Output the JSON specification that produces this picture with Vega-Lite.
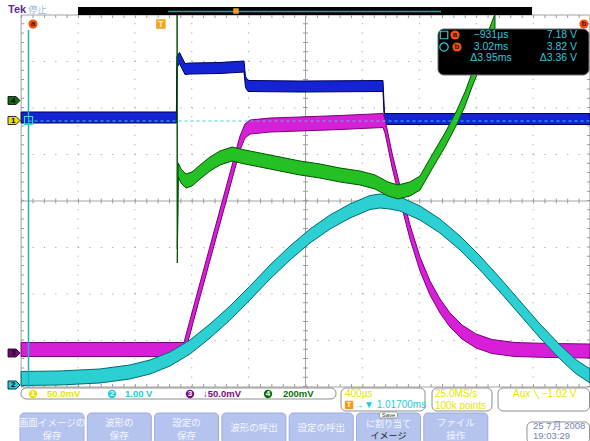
{
  "$schema": "https://vega.github.io/schema/vega-lite/v6.json",
  "background": "#ffffff",
  "padding": 0,
  "spacing": 0,
  "bounds": "flush",
  "config": {"view": {"stroke": null}, "text": {"font": "Liberation Sans"}},
  "datasets": {
    "traces": [
      {"ch": 1, "t": -0.983, "div": 1.796}, {"ch": 1, "t": -0.428, "div": 1.796}, {"ch": 1, "t": 0.109, "div": 1.796},
      {"ch": 1, "t": 0.1132, "div": 2.989}, {"ch": 1, "t": 0.1308, "div": 3.075}, {"ch": 1, "t": 0.1484, "div": 2.968},
      {"ch": 1, "t": 0.1695, "div": 2.839}, {"ch": 1, "t": 0.2046, "div": 2.849}, {"ch": 1, "t": 0.4156, "div": 2.86},
      {"ch": 1, "t": 0.5844, "div": 2.892}, {"ch": 1, "t": 0.5949, "div": 2.559}, {"ch": 1, "t": 0.6125, "div": 2.473},
      {"ch": 1, "t": 0.9782, "div": 2.462}, {"ch": 1, "t": 1.5619, "div": 2.473}, {"ch": 1, "t": 1.5724, "div": 1.763},
      {"ch": 1, "t": 3.017, "div": 1.763},

      {"ch": 3, "t": -0.983, "div": -3.194}, {"ch": 3, "t": 0.1624, "div": -3.194}, {"ch": 3, "t": 0.1765, "div": -3.032},
      {"ch": 3, "t": 0.275, "div": -1.914}, {"ch": 3, "t": 0.3805, "div": -0.731}, {"ch": 3, "t": 0.4859, "div": 0.452},
      {"ch": 3, "t": 0.5563, "div": 1.247}, {"ch": 3, "t": 0.5914, "div": 1.505}, {"ch": 3, "t": 0.6266, "div": 1.591},
      {"ch": 3, "t": 0.7672, "div": 1.634}, {"ch": 3, "t": 0.9782, "div": 1.656}, {"ch": 3, "t": 1.2595, "div": 1.688},
      {"ch": 3, "t": 1.5619, "div": 1.731}, {"ch": 3, "t": 1.5759, "div": 1.613}, {"ch": 3, "t": 1.6252, "div": 0.882},
      {"ch": 3, "t": 1.6814, "div": 0.172}, {"ch": 3, "t": 1.7518, "div": -0.667}, {"ch": 3, "t": 1.8221, "div": -1.355},
      {"ch": 3, "t": 1.8924, "div": -1.871}, {"ch": 3, "t": 1.9627, "div": -2.258}, {"ch": 3, "t": 2.0331, "div": -2.559},
      {"ch": 3, "t": 2.1174, "div": -2.817}, {"ch": 3, "t": 2.2159, "div": -3.011}, {"ch": 3, "t": 2.3284, "div": -3.129},
      {"ch": 3, "t": 2.4902, "div": -3.194}, {"ch": 3, "t": 2.7363, "div": -3.215}, {"ch": 3, "t": 3.017, "div": -3.226},

      {"ch": 2, "t": -0.983, "div": -3.817}, {"ch": 2, "t": -0.7096, "div": -3.806}, {"ch": 2, "t": -0.4283, "div": -3.763},
      {"ch": 2, "t": -0.2173, "div": -3.677}, {"ch": 2, "t": -0.0767, "div": -3.57}, {"ch": 2, "t": 0.064, "div": -3.398},
      {"ch": 2, "t": 0.2046, "div": -3.14}, {"ch": 2, "t": 0.3453, "div": -2.796}, {"ch": 2, "t": 0.4859, "div": -2.409},
      {"ch": 2, "t": 0.6266, "div": -1.978}, {"ch": 2, "t": 0.7672, "div": -1.527}, {"ch": 2, "t": 0.9079, "div": -1.118},
      {"ch": 2, "t": 1.0485, "div": -0.753}, {"ch": 2, "t": 1.1892, "div": -0.452}, {"ch": 2, "t": 1.3298, "div": -0.215},
      {"ch": 2, "t": 1.4705, "div": -0.032}, {"ch": 2, "t": 1.5408, "div": 0.0}, {"ch": 2, "t": 1.6111, "div": -0.022},
      {"ch": 2, "t": 1.6814, "div": -0.065}, {"ch": 2, "t": 1.8221, "div": -0.258}, {"ch": 2, "t": 1.9627, "div": -0.538},
      {"ch": 2, "t": 2.1034, "div": -0.903}, {"ch": 2, "t": 2.2441, "div": -1.333}, {"ch": 2, "t": 2.3847, "div": -1.806},
      {"ch": 2, "t": 2.5253, "div": -2.301}, {"ch": 2, "t": 2.666, "div": -2.796}, {"ch": 2, "t": 2.8066, "div": -3.247},
      {"ch": 2, "t": 2.9121, "div": -3.548}, {"ch": 2, "t": 3.017, "div": -3.763},

      {"ch": 4, "t": 0.1139, "div": 3.871}, {"ch": 4, "t": 0.1153, "div": -1.183}, {"ch": 4, "t": 0.1224, "div": 0.667},
      {"ch": 4, "t": 0.1414, "div": 0.538}, {"ch": 4, "t": 0.1765, "div": 0.43}, {"ch": 4, "t": 0.2187, "div": 0.473},
      {"ch": 4, "t": 0.275, "div": 0.624}, {"ch": 4, "t": 0.3453, "div": 0.796}, {"ch": 4, "t": 0.4156, "div": 0.925},
      {"ch": 4, "t": 0.5, "div": 1.011}, {"ch": 4, "t": 0.5914, "div": 0.946}, {"ch": 4, "t": 0.6969, "div": 0.882},
      {"ch": 4, "t": 0.8376, "div": 0.796}, {"ch": 4, "t": 0.9782, "div": 0.71}, {"ch": 4, "t": 1.1188, "div": 0.645},
      {"ch": 4, "t": 1.2595, "div": 0.559}, {"ch": 4, "t": 1.4001, "div": 0.495}, {"ch": 4, "t": 1.5056, "div": 0.409},
      {"ch": 4, "t": 1.597, "div": 0.258}, {"ch": 4, "t": 1.6674, "div": 0.194}, {"ch": 4, "t": 1.7518, "div": 0.258},
      {"ch": 4, "t": 1.8221, "div": 0.387}, {"ch": 4, "t": 1.9065, "div": 0.839}, {"ch": 4, "t": 1.9979, "div": 1.312},
      {"ch": 4, "t": 2.0823, "div": 1.806}, {"ch": 4, "t": 2.1385, "div": 2.194}, {"ch": 4, "t": 2.1878, "div": 2.602},
      {"ch": 4, "t": 2.2441, "div": 3.032}, {"ch": 4, "t": 2.3003, "div": 3.484}, {"ch": 4, "t": 2.3495, "div": 3.871}
    ],
    "vgrid": [{"t": -0.583}, {"t": -0.183}, {"t": 0.217}, {"t": 0.617}, {"t": 1.417}, {"t": 1.817}, {"t": 2.217}, {"t": 2.617}],
    "hgrid": [{"div": -3}, {"div": -2}, {"div": -1}, {"div": 1}, {"div": 2}, {"div": 3}],
    "frame": [
      {"t0": -0.983, "t1": -0.983, "d0": -4, "d1": 4},
      {"t0": -0.983, "t1": 3.017, "d0": 4, "d1": 4},
      {"t0": -0.983, "t1": 3.017, "d0": -4, "d1": -4},
      {"t0": 3.017, "t1": 3.017, "d0": -4, "d1": 4},
      {"t0": 1.017, "t1": 1.017, "d0": -4, "d1": 4},
      {"t0": -0.983, "t1": 3.017, "d0": 0, "d1": 0}
    ],
    "grounds": [{"ch": "4", "div": 2.161}, {"ch": "1", "div": 1.731}, {"ch": "3", "div": -3.269}, {"ch": "2", "div": -3.957}],
    "tags": [{"tag": "a", "t": -0.8995, "div": 3.806}, {"tag": "b", "t": 2.975, "div": 3.806}],
    "cursors": [
      {"cursor": "a", "div": 3.57, "time": "−931µs", "volt": "7.18 V"},
      {"cursor": "b", "div": 3.312, "time": "3.02ms", "volt": "3.82 V"},
      {"cursor": "Δ", "div": 3.065, "time": "Δ3.95ms", "volt": "Δ3.36 V"}
    ],
    "boxes": [
      {"u0": 0.0149, "u1": 4.695, "r0": 0.083, "r1": 1.0},
      {"u0": 4.77, "u1": 6.018, "r0": 0.083, "r1": 2.0},
      {"u0": 6.122, "u1": 7.013, "r0": 0.083, "r1": 2.0},
      {"u0": 7.103, "u1": 8.462, "r0": 0.083, "r1": 2.0},
      {"u0": 7.533, "u1": 8.462, "r0": 2.917, "r1": 4.7}
    ],
    "buttons": [
      {"slot": 0, "line1": "画面イメージの", "line2": "保存"},
      {"slot": 1, "line1": "波形の", "line2": "保存"},
      {"slot": 2, "line1": "設定の", "line2": "保存"},
      {"slot": 3, "mid": "波形の呼出"},
      {"slot": 4, "mid": "設定の呼出"},
      {"slot": 5, "upper": "に割り当て", "dark": "イメージ"},
      {"slot": 6, "line1": "ファイル", "line2": "操作"}
    ],
    "pills": [{"ch": "1", "u": 0.193}, {"ch": "2", "u": 1.367}, {"ch": "3", "u": 2.526}, {"ch": "4", "u": 3.685}],
    "chReadouts": [
      {"u": 0.401, "r": 0.583, "text": "50.0mV", "src": "1"},
      {"u": 1.56, "r": 0.583, "text": "1.00 V", "src": "2"},
      {"u": 2.719, "r": 0.583, "text": "↓50.0mV", "src": "3"},
      {"u": 3.908, "r": 0.583, "text": "200mV", "src": "4"}
    ],
    "sysReadouts": [
      {"u": 4.829, "r": 0.583, "text": "400µs", "src": "sys"},
      {"u": 4.963, "r": 1.5, "text": "→▼ 1.01700ms", "src": "trig"},
      {"u": 6.166, "r": 0.583, "text": "25.0MS/s", "src": "sys"},
      {"u": 6.166, "r": 1.583, "text": "100k points", "src": "sys"},
      {"u": 7.325, "r": 0.583, "text": "Aux ╲ −1.02 V", "src": "sys"}
    ],
    "clock": [
      {"u": 7.623, "r": 3.25, "text": "25 7月  2008"},
      {"u": 7.623, "r": 4.1, "text": "19:03:29"}
    ]
  },
  "vconcat": [
    {
      "width": 590,
      "height": 387,
      "layer": [
        {
          "data": {"name": "vgrid"},
          "mark": {"type": "rule", "stroke": "#a6a6a6", "strokeWidth": 1, "strokeDash": [1.2, 8.1]},
          "encoding": {
            "x": {"field": "t", "type": "quantitative", "scale": {"domain": [-1.1315, 3.0176], "nice": false, "zero": false}, "axis": null},
            "y": {"datum": -4, "type": "quantitative", "scale": {"domain": [-4, 4.3226], "nice": false, "zero": false}, "axis": null},
            "y2": {"datum": 4}
          }
        },
        {
          "data": {"name": "hgrid"},
          "mark": {"type": "rule", "stroke": "#a6a6a6", "strokeWidth": 1, "strokeDash": [1.2, 10.176]},
          "encoding": {
            "x": {"datum": -0.983, "type": "quantitative", "scale": {"domain": [-1.1315, 3.0176], "nice": false, "zero": false}, "axis": null},
            "x2": {"datum": 3.017},
            "y": {"field": "div", "type": "quantitative", "scale": {"domain": [-4, 4.3226], "nice": false, "zero": false}, "axis": null}
          }
        },
        {
          "data": {"name": "frame"},
          "mark": {"type": "rule", "stroke": "#a2a2a2", "strokeWidth": 1},
          "encoding": {
            "x": {"field": "t0", "type": "quantitative", "scale": {"domain": [-1.1315, 3.0176], "nice": false, "zero": false}, "axis": null},
            "x2": {"field": "t1"},
            "y": {"field": "d0", "type": "quantitative", "scale": {"domain": [-4, 4.3226], "nice": false, "zero": false}, "axis": null},
            "y2": {"field": "d1"}
          }
        },
        {
          "data": {"values": [{"t": 1.017}]},
          "mark": {"type": "rule", "stroke": "#9c9c9c", "strokeWidth": 5, "strokeDash": [1, 8.3]},
          "encoding": {
            "x": {"field": "t", "type": "quantitative", "scale": {"domain": [-1.1315, 3.0176], "nice": false, "zero": false}, "axis": null},
            "y": {"datum": -4, "type": "quantitative", "scale": {"domain": [-4, 4.3226], "nice": false, "zero": false}, "axis": null},
            "y2": {"datum": 4}
          }
        },
        {
          "data": {"values": [{"div": 0}]},
          "mark": {"type": "rule", "stroke": "#9c9c9c", "strokeWidth": 5, "strokeDash": [1, 10.376]},
          "encoding": {
            "x": {"datum": -0.983, "type": "quantitative", "scale": {"domain": [-1.1315, 3.0176], "nice": false, "zero": false}, "axis": null},
            "x2": {"datum": 3.017},
            "y": {"field": "div", "type": "quantitative", "scale": {"domain": [-4, 4.3226], "nice": false, "zero": false}, "axis": null}
          }
        },
        {
          "data": {"values": [{"t": -0.9725}, {"t": 3.0065}]},
          "mark": {"type": "rule", "stroke": "#9c9c9c", "strokeWidth": 3, "strokeDash": [1, 8.3]},
          "encoding": {
            "x": {"field": "t", "type": "quantitative", "scale": {"domain": [-1.1315, 3.0176], "nice": false, "zero": false}, "axis": null},
            "y": {"datum": -4, "type": "quantitative", "scale": {"domain": [-4, 4.3226], "nice": false, "zero": false}, "axis": null},
            "y2": {"datum": 4}
          }
        },
        {
          "data": {"values": [{"div": 3.968}, {"div": -3.968}]},
          "mark": {"type": "rule", "stroke": "#9c9c9c", "strokeWidth": 3, "strokeDash": [1, 10.376]},
          "encoding": {
            "x": {"datum": -0.983, "type": "quantitative", "scale": {"domain": [-1.1315, 3.0176], "nice": false, "zero": false}, "axis": null},
            "x2": {"datum": 3.017},
            "y": {"field": "div", "type": "quantitative", "scale": {"domain": [-4, 4.3226], "nice": false, "zero": false}, "axis": null}
          }
        },
        {
          "data": {"name": "traces"},
          "transform": [{"filter": "datum.ch === 1"}],
          "mark": {"type": "area", "yOffset": -5.5, "y2Offset": 5.5, "fill": "#1424d4", "stroke": "#00005e", "strokeWidth": 1},
          "encoding": {
            "x": {"field": "t", "type": "quantitative", "scale": {"domain": [-1.1315, 3.0176], "nice": false, "zero": false}, "axis": null},
            "y": {"field": "div", "type": "quantitative", "scale": {"domain": [-4, 4.3226], "nice": false, "zero": false}, "axis": null},
            "y2": {"field": "div"}
          }
        },
        {
          "data": {"name": "traces"},
          "transform": [{"filter": "datum.ch === 3"}],
          "mark": {"type": "area", "yOffset": -7, "y2Offset": 7, "fill": "#d81fd8", "stroke": "#7a0079", "strokeWidth": 1},
          "encoding": {
            "x": {"field": "t", "type": "quantitative", "scale": {"domain": [-1.1315, 3.0176], "nice": false, "zero": false}, "axis": null},
            "y": {"field": "div", "type": "quantitative", "scale": {"domain": [-4, 4.3226], "nice": false, "zero": false}, "axis": null},
            "y2": {"field": "div"}
          }
        },
        {
          "data": {"name": "traces"},
          "transform": [{"filter": "datum.ch === 2"}],
          "mark": {"type": "area", "yOffset": -7, "y2Offset": 7, "fill": "#2ccfd2", "stroke": "#006b74", "strokeWidth": 1},
          "encoding": {
            "x": {"field": "t", "type": "quantitative", "scale": {"domain": [-1.1315, 3.0176], "nice": false, "zero": false}, "axis": null},
            "y": {"field": "div", "type": "quantitative", "scale": {"domain": [-4, 4.3226], "nice": false, "zero": false}, "axis": null},
            "y2": {"field": "div"}
          }
        },
        {
          "data": {"name": "traces"},
          "transform": [{"filter": "datum.ch === 4"}],
          "mark": {"type": "area", "yOffset": -7, "y2Offset": 7, "fill": "#24c024", "stroke": "#005500", "strokeWidth": 1},
          "encoding": {
            "x": {"field": "t", "type": "quantitative", "scale": {"domain": [-1.1315, 3.0176], "nice": false, "zero": false}, "axis": null},
            "y": {"field": "div", "type": "quantitative", "scale": {"domain": [-4, 4.3226], "nice": false, "zero": false}, "axis": null},
            "y2": {"field": "div"}
          }
        },
        {
          "data": {"values": [{"t": -0.931, "div": 1.72}]},
          "mark": {"type": "rule", "stroke": "#3ccbe0", "strokeWidth": 1, "strokeDash": [3, 3]},
          "encoding": {
            "x": {"field": "t", "type": "quantitative", "scale": {"domain": [-1.1315, 3.0176], "nice": false, "zero": false}, "axis": null},
            "x2": {"datum": 3.017},
            "y": {"field": "div", "type": "quantitative", "scale": {"domain": [-4, 4.3226], "nice": false, "zero": false}, "axis": null}
          }
        },
        {
          "data": {"values": [{"t": -0.931}]},
          "mark": {"type": "rule", "stroke": "#1bb5c6", "strokeWidth": 1.5},
          "encoding": {
            "x": {"field": "t", "type": "quantitative", "scale": {"domain": [-1.1315, 3.0176], "nice": false, "zero": false}, "axis": null},
            "y": {"datum": -4, "type": "quantitative", "scale": {"domain": [-4, 4.3226], "nice": false, "zero": false}, "axis": null},
            "y2": {"datum": 3.677}
          }
        },
        {
          "data": {"values": [{"t": -0.931, "div": 1.731}]},
          "mark": {"type": "point", "shape": "square", "size": 64, "filled": false, "stroke": "#35d5e5", "strokeWidth": 1.2, "opacity": 1},
          "encoding": {
            "x": {"field": "t", "type": "quantitative", "scale": {"domain": [-1.1315, 3.0176], "nice": false, "zero": false}, "axis": null},
            "y": {"field": "div", "type": "quantitative", "scale": {"domain": [-4, 4.3226], "nice": false, "zero": false}, "axis": null}
          }
        },
        {
          "data": {"name": "grounds"},
          "mark": {"type": "point", "shape": "M-1,-0.67L0.35,-0.67L1,0L0.35,0.67L-1,0.67Z", "size": 144, "filled": true, "stroke": "#000000", "strokeWidth": 0.8, "opacity": 1},
          "encoding": {
            "x": {"datum": -1.033, "type": "quantitative", "scale": {"domain": [-1.1315, 3.0176], "nice": false, "zero": false}, "axis": null},
            "y": {"field": "div", "type": "quantitative", "scale": {"domain": [-4, 4.3226], "nice": false, "zero": false}, "axis": null},
            "fill": {"field": "ch", "type": "nominal", "scale": {"domain": ["1", "2", "3", "4"], "range": ["#e8e400", "#22ccd8", "#7a0a7a", "#0e6e0e"]}, "legend": null}
          }
        },
        {
          "data": {"name": "grounds"},
          "mark": {"type": "text", "fontSize": 8, "fontWeight": "bold", "fill": "#000000", "align": "center", "baseline": "middle"},
          "encoding": {
            "x": {"datum": -1.038, "type": "quantitative", "scale": {"domain": [-1.1315, 3.0176], "nice": false, "zero": false}, "axis": null},
            "y": {"field": "div", "type": "quantitative", "scale": {"domain": [-4, 4.3226], "nice": false, "zero": false}, "axis": null},
            "text": {"field": "ch"}
          }
        },
        {
          "data": {"values": [{"t0": -0.583, "t1": 2.61, "d0": 4.0, "d1": 4.172}]},
          "mark": {"type": "rect", "fill": "#000000"},
          "encoding": {
            "x": {"field": "t0", "type": "quantitative", "scale": {"domain": [-1.1315, 3.0176], "nice": false, "zero": false}, "axis": null},
            "x2": {"field": "t1"},
            "y": {"field": "d0", "type": "quantitative", "scale": {"domain": [-4, 4.3226], "nice": false, "zero": false}, "axis": null},
            "y2": {"field": "d1"}
          }
        },
        {
          "data": {"values": [{"t0": 0.0499, "t1": 1.9698, "div": 4.075}]},
          "mark": {"type": "rule", "stroke": "#2f9c9c", "strokeWidth": 1.5},
          "encoding": {
            "x": {"field": "t0", "type": "quantitative", "scale": {"domain": [-1.1315, 3.0176], "nice": false, "zero": false}, "axis": null},
            "x2": {"field": "t1"},
            "y": {"field": "div", "type": "quantitative", "scale": {"domain": [-4, 4.3226], "nice": false, "zero": false}, "axis": null}
          }
        },
        {
          "data": {"values": [{"t": 0.528, "div": 4.086}]},
          "mark": {"type": "point", "shape": "square", "size": 30, "filled": true, "fill": "#f0a020", "strokeWidth": 0, "opacity": 1},
          "encoding": {
            "x": {"field": "t", "type": "quantitative", "scale": {"domain": [-1.1315, 3.0176], "nice": false, "zero": false}, "axis": null},
            "y": {"field": "div", "type": "quantitative", "scale": {"domain": [-4, 4.3226], "nice": false, "zero": false}, "axis": null}
          }
        },
        {
          "data": {"values": [{"t": -1.0752, "div": 4.097, "label": "Tek"}]},
          "mark": {"type": "text", "align": "left", "baseline": "middle", "fontSize": 11, "fontWeight": "bold", "fill": "#5b2c90"},
          "encoding": {
            "x": {"field": "t", "type": "quantitative", "scale": {"domain": [-1.1315, 3.0176], "nice": false, "zero": false}, "axis": null},
            "y": {"field": "div", "type": "quantitative", "scale": {"domain": [-4, 4.3226], "nice": false, "zero": false}, "axis": null},
            "text": {"field": "label"}
          }
        },
        {
          "data": {"values": [{"t": -0.9346, "div": 4.097, "label": "停止"}]},
          "mark": {"type": "text", "align": "left", "baseline": "middle", "fontSize": 9.5, "font": "Noto Sans CJK JP", "fill": "#a4bbe4"},
          "encoding": {
            "x": {"field": "t", "type": "quantitative", "scale": {"domain": [-1.1315, 3.0176], "nice": false, "zero": false}, "axis": null},
            "y": {"field": "div", "type": "quantitative", "scale": {"domain": [-4, 4.3226], "nice": false, "zero": false}, "axis": null},
            "text": {"field": "label"}
          }
        },
        {
          "data": {"name": "tags"},
          "mark": {"type": "point", "shape": "circle", "size": 85, "filled": true, "fill": "#f2540f", "strokeWidth": 0, "opacity": 1},
          "encoding": {
            "x": {"field": "t", "type": "quantitative", "scale": {"domain": [-1.1315, 3.0176], "nice": false, "zero": false}, "axis": null},
            "y": {"field": "div", "type": "quantitative", "scale": {"domain": [-4, 4.3226], "nice": false, "zero": false}, "axis": null}
          }
        },
        {
          "data": {"name": "tags"},
          "mark": {"type": "text", "align": "center", "baseline": "middle", "fontSize": 8, "fontWeight": "bold", "fill": "#4a1000"},
          "encoding": {
            "x": {"field": "t", "type": "quantitative", "scale": {"domain": [-1.1315, 3.0176], "nice": false, "zero": false}, "axis": null},
            "y": {"field": "div", "type": "quantitative", "scale": {"domain": [-4, 4.3226], "nice": false, "zero": false}, "axis": null},
            "text": {"field": "tag"}
          }
        },
        {
          "data": {"values": [{"t": 0.0, "div": 3.806, "tag": "T"}]},
          "mark": {"type": "point", "shape": "square", "size": 90, "filled": true, "fill": "#f2a51d", "strokeWidth": 0, "opacity": 1},
          "encoding": {
            "x": {"field": "t", "type": "quantitative", "scale": {"domain": [-1.1315, 3.0176], "nice": false, "zero": false}, "axis": null},
            "y": {"field": "div", "type": "quantitative", "scale": {"domain": [-4, 4.3226], "nice": false, "zero": false}, "axis": null}
          }
        },
        {
          "data": {"values": [{"t": 0.0, "div": 3.806, "tag": "T"}]},
          "mark": {"type": "text", "align": "center", "baseline": "middle", "fontSize": 8.5, "fontWeight": "bold", "fill": "#fff4c2"},
          "encoding": {
            "x": {"field": "t", "type": "quantitative", "scale": {"domain": [-1.1315, 3.0176], "nice": false, "zero": false}, "axis": null},
            "y": {"field": "div", "type": "quantitative", "scale": {"domain": [-4, 4.3226], "nice": false, "zero": false}, "axis": null},
            "text": {"field": "tag"}
          }
        },
        {
          "data": {"values": [{"t0": 1.9487, "t1": 3.0105, "d0": 2.71, "d1": 3.699}]},
          "mark": {"type": "rect", "fill": "#000000", "stroke": "#6e6e6e", "strokeWidth": 1, "cornerRadius": 6},
          "encoding": {
            "x": {"field": "t0", "type": "quantitative", "scale": {"domain": [-1.1315, 3.0176], "nice": false, "zero": false}, "axis": null},
            "x2": {"field": "t1"},
            "y": {"field": "d0", "type": "quantitative", "scale": {"domain": [-4, 4.3226], "nice": false, "zero": false}, "axis": null},
            "y2": {"field": "d1"}
          }
        },
        {
          "data": {"values": [{"t": 1.9909, "div": 3.57}]},
          "mark": {"type": "point", "shape": "square", "size": 56, "filled": false, "stroke": "#2fc8dc", "strokeWidth": 1.2, "opacity": 1},
          "encoding": {
            "x": {"field": "t", "type": "quantitative", "scale": {"domain": [-1.1315, 3.0176], "nice": false, "zero": false}, "axis": null},
            "y": {"field": "div", "type": "quantitative", "scale": {"domain": [-4, 4.3226], "nice": false, "zero": false}, "axis": null}
          }
        },
        {
          "data": {"values": [{"t": 1.9909, "div": 3.312}]},
          "mark": {"type": "point", "shape": "circle", "size": 70, "filled": false, "stroke": "#2fc8dc", "strokeWidth": 1.2, "opacity": 1},
          "encoding": {
            "x": {"field": "t", "type": "quantitative", "scale": {"domain": [-1.1315, 3.0176], "nice": false, "zero": false}, "axis": null},
            "y": {"field": "div", "type": "quantitative", "scale": {"domain": [-4, 4.3226], "nice": false, "zero": false}, "axis": null}
          }
        },
        {
          "data": {"values": [{"t": 2.0682, "div": 3.57, "tag": "a"}, {"t": 2.0823, "div": 3.312, "tag": "b"}]},
          "mark": {"type": "point", "shape": "circle", "size": 85, "filled": true, "fill": "#f2540f", "strokeWidth": 0, "opacity": 1},
          "encoding": {
            "x": {"field": "t", "type": "quantitative", "scale": {"domain": [-1.1315, 3.0176], "nice": false, "zero": false}, "axis": null},
            "y": {"field": "div", "type": "quantitative", "scale": {"domain": [-4, 4.3226], "nice": false, "zero": false}, "axis": null}
          }
        },
        {
          "data": {"values": [{"t": 2.0682, "div": 3.57, "tag": "a"}, {"t": 2.0823, "div": 3.312, "tag": "b"}]},
          "mark": {"type": "text", "align": "center", "baseline": "middle", "fontSize": 8, "fontWeight": "bold", "fill": "#3a0a00"},
          "encoding": {
            "x": {"field": "t", "type": "quantitative", "scale": {"domain": [-1.1315, 3.0176], "nice": false, "zero": false}, "axis": null},
            "y": {"field": "div", "type": "quantitative", "scale": {"domain": [-4, 4.3226], "nice": false, "zero": false}, "axis": null},
            "text": {"field": "tag"}
          }
        },
        {
          "data": {"name": "cursors"},
          "mark": {"type": "text", "align": "center", "baseline": "middle", "fontSize": 10.5, "fill": "#2fc8dc"},
          "encoding": {
            "x": {"datum": 2.3213, "type": "quantitative", "scale": {"domain": [-1.1315, 3.0176], "nice": false, "zero": false}, "axis": null},
            "y": {"field": "div", "type": "quantitative", "scale": {"domain": [-4, 4.3226], "nice": false, "zero": false}, "axis": null},
            "text": {"field": "time"}
          }
        },
        {
          "data": {"name": "cursors"},
          "mark": {"type": "text", "align": "right", "baseline": "middle", "fontSize": 10.5, "fill": "#2fc8dc"},
          "encoding": {
            "x": {"datum": 2.9262, "type": "quantitative", "scale": {"domain": [-1.1315, 3.0176], "nice": false, "zero": false}, "axis": null},
            "y": {"field": "div", "type": "quantitative", "scale": {"domain": [-4, 4.3226], "nice": false, "zero": false}, "axis": null},
            "text": {"field": "volt"}
          }
        }
      ]
    },
    {
      "width": 590,
      "height": 54,
      "layer": [
        {
          "data": {"name": "boxes"},
          "mark": {"type": "rect", "fill": "#ffffff", "stroke": "#8f8f8f", "strokeWidth": 1, "cornerRadius": 5, "clip": true},
          "encoding": {
            "x": {"field": "u0", "type": "quantitative", "scale": {"domain": [-0.2972, 8.4695], "nice": false, "zero": false}, "axis": null},
            "x2": {"field": "u1"},
            "y": {"field": "r0", "type": "quantitative", "scale": {"domain": [0, 4.5], "nice": false, "zero": false, "reverse": true}, "axis": null},
            "y2": {"field": "r1"}
          }
        },
        {
          "data": {"name": "buttons"},
          "mark": {"type": "rect", "fill": "#b5c4ef", "stroke": "#9cacde", "strokeWidth": 1, "cornerRadius": 4, "x2Offset": 64, "clip": true},
          "encoding": {
            "x": {"field": "slot", "type": "quantitative", "scale": {"domain": [-0.2972, 8.4695], "nice": false, "zero": false}, "axis": null},
            "x2": {"field": "slot"},
            "y": {"datum": 2.1667, "type": "quantitative", "scale": {"domain": [0, 4.5], "nice": false, "zero": false, "reverse": true}, "axis": null},
            "y2": {"datum": 4.8}
          }
        },
        {
          "data": {"values": [{"slot": 5, "tag": "Save"}]},
          "mark": {"type": "rect", "fill": "#ffffff", "stroke": "#8a8a8a", "strokeWidth": 0.8, "cornerRadius": 2, "xOffset": 23, "x2Offset": 41},
          "encoding": {
            "x": {"field": "slot", "type": "quantitative", "scale": {"domain": [-0.2972, 8.4695], "nice": false, "zero": false}, "axis": null},
            "x2": {"field": "slot"},
            "y": {"datum": 2.083, "type": "quantitative", "scale": {"domain": [0, 4.5], "nice": false, "zero": false, "reverse": true}, "axis": null},
            "y2": {"datum": 2.583}
          }
        },
        {
          "data": {"values": [{"slot": 5, "tag": "Save"}]},
          "mark": {"type": "text", "align": "center", "baseline": "middle", "fontSize": 6, "fill": "#404040", "xOffset": 32},
          "encoding": {
            "x": {"field": "slot", "type": "quantitative", "scale": {"domain": [-0.2972, 8.4695], "nice": false, "zero": false}, "axis": null},
            "y": {"datum": 2.333, "type": "quantitative", "scale": {"domain": [0, 4.5], "nice": false, "zero": false, "reverse": true}, "axis": null},
            "text": {"field": "tag"}
          }
        },
        {
          "data": {"name": "buttons"},
          "transform": [{"filter": "datum.line1"}],
          "mark": {"type": "text", "align": "center", "baseline": "middle", "fontSize": 9.5, "font": "Noto Sans CJK JP", "fill": "#f4f6ff", "xOffset": 32},
          "encoding": {
            "x": {"field": "slot", "type": "quantitative", "scale": {"domain": [-0.2972, 8.4695], "nice": false, "zero": false}, "axis": null},
            "y": {"datum": 3.0, "type": "quantitative", "scale": {"domain": [0, 4.5], "nice": false, "zero": false, "reverse": true}, "axis": null},
            "text": {"field": "line1"}
          }
        },
        {
          "data": {"name": "buttons"},
          "transform": [{"filter": "datum.line2"}],
          "mark": {"type": "text", "align": "center", "baseline": "middle", "fontSize": 9.5, "font": "Noto Sans CJK JP", "fill": "#f4f6ff", "xOffset": 32},
          "encoding": {
            "x": {"field": "slot", "type": "quantitative", "scale": {"domain": [-0.2972, 8.4695], "nice": false, "zero": false}, "axis": null},
            "y": {"datum": 4.05, "type": "quantitative", "scale": {"domain": [0, 4.5], "nice": false, "zero": false, "reverse": true}, "axis": null},
            "text": {"field": "line2"}
          }
        },
        {
          "data": {"name": "buttons"},
          "transform": [{"filter": "datum.upper"}],
          "mark": {"type": "text", "align": "center", "baseline": "middle", "fontSize": 9, "font": "Noto Sans CJK JP", "fill": "#f4f6ff", "xOffset": 32},
          "encoding": {
            "x": {"field": "slot", "type": "quantitative", "scale": {"domain": [-0.2972, 8.4695], "nice": false, "zero": false}, "axis": null},
            "y": {"datum": 3.083, "type": "quantitative", "scale": {"domain": [0, 4.5], "nice": false, "zero": false, "reverse": true}, "axis": null},
            "text": {"field": "upper"}
          }
        },
        {
          "data": {"name": "buttons"},
          "transform": [{"filter": "datum.dark"}],
          "mark": {"type": "text", "align": "center", "baseline": "middle", "fontSize": 9, "font": "Noto Sans CJK JP", "fill": "#1e1e28", "xOffset": 32},
          "encoding": {
            "x": {"field": "slot", "type": "quantitative", "scale": {"domain": [-0.2972, 8.4695], "nice": false, "zero": false}, "axis": null},
            "y": {"datum": 4.042, "type": "quantitative", "scale": {"domain": [0, 4.5], "nice": false, "zero": false, "reverse": true}, "axis": null},
            "text": {"field": "dark"}
          }
        },
        {
          "data": {"name": "buttons"},
          "transform": [{"filter": "datum.mid"}],
          "mark": {"type": "text", "align": "center", "baseline": "middle", "fontSize": 9.5, "font": "Noto Sans CJK JP", "fill": "#f4f6ff", "xOffset": 32},
          "encoding": {
            "x": {"field": "slot", "type": "quantitative", "scale": {"domain": [-0.2972, 8.4695], "nice": false, "zero": false}, "axis": null},
            "y": {"datum": 3.45, "type": "quantitative", "scale": {"domain": [0, 4.5], "nice": false, "zero": false, "reverse": true}, "axis": null},
            "text": {"field": "mid"}
          }
        },
        {
          "data": {"name": "pills"},
          "mark": {"type": "point", "shape": "circle", "size": 70, "filled": true, "strokeWidth": 0, "opacity": 1},
          "encoding": {
            "x": {"field": "u", "type": "quantitative", "scale": {"domain": [-0.2972, 8.4695], "nice": false, "zero": false}, "axis": null},
            "y": {"datum": 0.583, "type": "quantitative", "scale": {"domain": [0, 4.5], "nice": false, "zero": false, "reverse": true}, "axis": null},
            "fill": {"field": "ch", "type": "nominal", "scale": {"domain": ["1", "2", "3", "4"], "range": ["#e8e400", "#2cd0e0", "#9a0a9a", "#109610"]}, "legend": null}
          }
        },
        {
          "data": {"name": "pills"},
          "mark": {"type": "text", "align": "center", "baseline": "middle", "fontSize": 8, "fontWeight": "bold", "fill": "#ffffff"},
          "encoding": {
            "x": {"field": "u", "type": "quantitative", "scale": {"domain": [-0.2972, 8.4695], "nice": false, "zero": false}, "axis": null},
            "y": {"datum": 0.583, "type": "quantitative", "scale": {"domain": [0, 4.5], "nice": false, "zero": false, "reverse": true}, "axis": null},
            "text": {"field": "ch"}
          }
        },
        {
          "data": {"name": "chReadouts"},
          "mark": {"type": "text", "align": "left", "baseline": "middle", "fontSize": 9.5, "fontWeight": "bold"},
          "encoding": {
            "x": {"field": "u", "type": "quantitative", "scale": {"domain": [-0.2972, 8.4695], "nice": false, "zero": false}, "axis": null},
            "y": {"field": "r", "type": "quantitative", "scale": {"domain": [0, 4.5], "nice": false, "zero": false, "reverse": true}, "axis": null},
            "text": {"field": "text"},
            "fill": {"field": "src", "type": "nominal", "scale": {"domain": ["1", "2", "3", "4", "sys", "trig"], "range": ["#d6d200", "#25c6da", "#a3139f", "#129a12", "#7283ad", "#f29a16"]}, "legend": null}
          }
        },
        {
          "data": {"name": "sysReadouts"},
          "mark": {"type": "text", "align": "left", "baseline": "middle", "fontSize": 10},
          "encoding": {
            "x": {"field": "u", "type": "quantitative", "scale": {"domain": [-0.2972, 8.4695], "nice": false, "zero": false}, "axis": null},
            "y": {"field": "r", "type": "quantitative", "scale": {"domain": [0, 4.5], "nice": false, "zero": false, "reverse": true}, "axis": null},
            "text": {"field": "text"},
            "fill": {"field": "src", "type": "nominal", "scale": {"domain": ["1", "2", "3", "4", "sys", "trig"], "range": ["#d6d200", "#25c6da", "#a3139f", "#129a12", "#7283ad", "#f29a16"]}, "legend": null}
          }
        },
        {
          "data": {"name": "clock"},
          "mark": {"type": "text", "align": "left", "baseline": "middle", "fontSize": 9.5, "fill": "#7283ad"},
          "encoding": {
            "x": {"field": "u", "type": "quantitative", "scale": {"domain": [-0.2972, 8.4695], "nice": false, "zero": false}, "axis": null},
            "y": {"field": "r", "type": "quantitative", "scale": {"domain": [0, 4.5], "nice": false, "zero": false, "reverse": true}, "axis": null},
            "text": {"field": "text"}
          }
        },
        {
          "data": {"values": [{"u": 4.889, "r": 1.5, "tag": "T"}]},
          "mark": {"type": "point", "shape": "square", "size": 70, "filled": true, "fill": "#f29a16", "strokeWidth": 0, "opacity": 1},
          "encoding": {
            "x": {"field": "u", "type": "quantitative", "scale": {"domain": [-0.2972, 8.4695], "nice": false, "zero": false}, "axis": null},
            "y": {"field": "r", "type": "quantitative", "scale": {"domain": [0, 4.5], "nice": false, "zero": false, "reverse": true}, "axis": null}
          }
        },
        {
          "data": {"values": [{"u": 4.889, "r": 1.5, "tag": "T"}]},
          "mark": {"type": "text", "align": "center", "baseline": "middle", "fontSize": 8, "fontWeight": "bold", "fill": "#fff4c2"},
          "encoding": {
            "x": {"field": "u", "type": "quantitative", "scale": {"domain": [-0.2972, 8.4695], "nice": false, "zero": false}, "axis": null},
            "y": {"field": "r", "type": "quantitative", "scale": {"domain": [0, 4.5], "nice": false, "zero": false, "reverse": true}, "axis": null},
            "text": {"field": "tag"}
          }
        }
      ]
    }
  ]
}
